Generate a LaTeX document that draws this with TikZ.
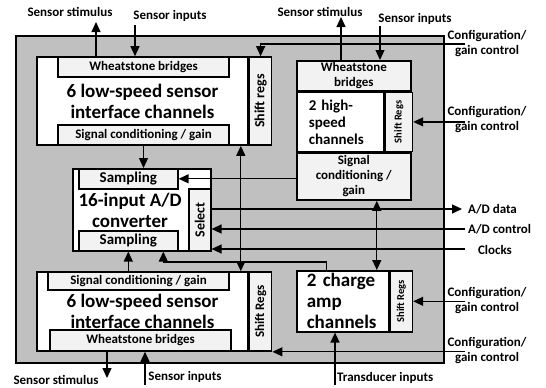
\documentclass[tikz,border=0pt]{standalone}
\usepackage{fontspec}
\setmainfont{Carlito}
\usetikzlibrary{positioning, arrows.meta}
\definecolor{chipgrey}{RGB}{192,192,192}
\definecolor{boxgrey}{RGB}{242,242,242}
\newcommand{\lblfont}{\fontsize{13}{15}\selectfont\bfseries}
\newcommand{\titlefnt}{\fontsize{19}{21}\selectfont\bfseries}
\newcommand{\midfnt}{\fontsize{15}{17}\selectfont\bfseries}
\newcommand{\smallfnt}{\fontsize{10.5}{12}\selectfont\bfseries}
\newcommand{\selfnt}{\fontsize{14}{16}\selectfont\bfseries}
\tikzset{
  blk/.style    = {draw, line width=1.6pt, fill=white, inner sep=0pt},
  subbox/.style = {draw, line width=1.6pt, fill=boxgrey, inner sep=0pt, align=center, font=\lblfont},
  regbox/.style = {subbox, font=\smallfnt},
  arrow/.style  = {-{Triangle[length=10pt,width=9pt]}, line width=1.3pt},
  darrow/.style = {{Triangle[length=10pt,width=9pt]}-{Triangle[length=10pt,width=9pt]}, line width=1.3pt},
  io/.style     = {font=\lblfont, align=center, inner sep=0pt}
}

\begin{document}
\begin{tikzpicture}[x=1pt, y=-1pt, font=\bfseries]
  \useasboundingbox (0,0) rectangle (546,388);
  \node[draw, line width=1.8pt, fill=chipgrey, minimum width=428, minimum height=327, anchor=north west] (chip) at (15,35) {};

  % top left channels
  \node[blk, minimum width=211, minimum height=88, align=center, font=\titlefnt] (tl) at (142.5,101) {6 low-speed sensor\\interface channels};
  \node[subbox, font=\selfnt, minimum width=22, minimum height=88, right=0pt of tl] (tlsr) {\rotatebox{90}{Shift regs}};
  \node[subbox, minimum width=171, minimum height=20, anchor=north west] (tlwb) at ([xshift=21pt]tl.north west) {Wheatstone bridges};
  \node[subbox, minimum width=171, minimum height=20, anchor=south west] (tlsc) at ([xshift=21pt]tl.south west) {Signal conditioning / gain};

  % high-speed channels
  \node[subbox, minimum width=114, minimum height=30, anchor=north west] (trwb) at (296,60) {Wheatstone\\bridges};
  \node[blk, minimum width=87, minimum height=59, text width=63, inner xsep=12pt, align=left, font=\midfnt, anchor=north west] (trmid) at (trwb.south west) {2 high-\\speed\\channels};
  \node[regbox, minimum width=27, minimum height=59, right=0pt of trmid] (trsr) {\rotatebox{90}{Shift Regs}};
  \node[subbox, minimum width=114, minimum height=47, anchor=north west] (trsc) at (trmid.south west) {Signal\\conditioning /\\gain};

  % A/D
  \node[blk, minimum width=138, minimum height=82, anchor=north west] (ad) at (72,168) {};
  \node[subbox, font=\midfnt, minimum width=99, minimum height=20, anchor=north west] (adsa) at ([xshift=6pt]ad.north west) {Sampling};
  \node[subbox, font=\midfnt, minimum width=99, minimum height=20, anchor=south west] (adsb) at ([xshift=6pt]ad.south west) {Sampling};
  \node[subbox, font=\selfnt, minimum width=22, minimum height=62, anchor=south east] (adsel) at (ad.south east) {\rotatebox{90}{Select}};
  \node[io, font=\titlefnt] (adtitle) at (130,210) {16-input A/D\\converter};

  % bottom left channels
  \node[blk, minimum width=211, minimum height=79, align=center, font=\titlefnt] (bl) at (142.5,311.5) {6 low-speed sensor\\interface channels};
  \node[subbox, minimum width=22, minimum height=79, right=0pt of bl] (blsr) {\rotatebox{90}{Shift Regs}};
  \node[subbox, minimum width=181, minimum height=18, anchor=north west] (blsc) at ([xshift=11pt]bl.north west) {Signal conditioning / gain};
  \node[subbox, minimum width=181, minimum height=21, anchor=south west] (blwb) at ([xshift=13pt]bl.south west) {Wheatstone bridges};

  % charge amps
  \node[blk, minimum width=92, minimum height=61, text width=72, inner xsep=10pt, align=left, font=\titlefnt, anchor=north west] (ca) at (296,270) {2 charge\\amp\\channels};
  \node[regbox, minimum width=22, minimum height=61, right=0pt of ca] (casr) {\rotatebox{90}{Shift Regs}};

  % free ends
  \coordinate (tlstim) at (96,22);
  \coordinate (tlin) at (135,25);
  \coordinate (trstim) at (341,17);
  \coordinate (trin) at (380,26);
  \coordinate (cf1) at (465,44);
  \coordinate (cf2) at (trsr.east -| cf1);
  \coordinate (cf3) at (casr.east -| cf1);
  \coordinate (cf4) at (blsr.south east -| cf1);
  \coordinate (addata) at (462,209);
  \coordinate (adctl) at (465,229);
  \coordinate (clk) at (465,249);
  \coordinate (trans) at (335,385);
  \coordinate (blstim) at (107,378);
  \coordinate (blin) at (145,385);

  % connectors
  \draw[arrow] (tlstim |- tl.north) -- (tlstim);
  \draw[arrow] (tlin) -- (tlin |- tl.north);
  \draw[arrow] (trstim |- trwb.north) -- (trstim);
  \draw[arrow] (trin) -- (trin |- trwb.north);
  \draw[arrow] (cf1) -| (tlsr.north);
  \draw[arrow] (cf2) -- (trsr.east);
  \draw[arrow] (cf3) -- (casr.east);
  \draw[arrow] (cf4) -- (blsr.south east);
  \draw[arrow] (tlsc.south) -- (tlsc.south |- ad.north);
  \draw[arrow] (adsa.east -| trsc.west) -- (adsa.east);
  \draw[arrow] (adsel.east |- addata) -- (addata);
  \draw[arrow] (adctl) -- (adsel.east |- adctl);
  \draw[arrow] (clk) -- (adsel.east |- clk);
  \draw[darrow] ([xshift=-8pt]tl.south east) -- ([xshift=-8pt]bl.north east);
  \draw[darrow] ([xshift=23pt]trsc.south) -- ([xshift=23pt]trsc.south |- ca.north);
  \draw[arrow] (adsb.south |- bl.north) -- (adsb.south);
  \draw[arrow] ([xshift=-16pt]ca.north) -- ++(0,-8) -| ([xshift=35pt]adsb.south);
  \draw[arrow] (trans) -- (trans |- ca.south);
  \draw[arrow] (blstim |- bl.south) -- (blstim);
  \draw[arrow] (blin) -- (blin |- bl.south);

  % labels
  \node[io] (tlstimlbl) at (70,12) {Sensor stimulus};
  \node[io] (tlinlbl) at (170,16) {Sensor inputs};
  \node[io] (trstimlbl) at (320,12) {Sensor stimulus};
  \node[io] (trinlbl) at (415,19) {Sensor inputs};
  \node[io] (cf1lbl) at (487,44) {Configuration/\\gain control};
  \node[io] (cf2lbl) at (487,119.5) {Configuration/\\gain control};
  \node[io] (cf3lbl) at (487,300.5) {Configuration/\\gain control};
  \node[io] (cf4lbl) at (487,350.5) {Configuration/\\gain control};
  \node[io, anchor=west] (addatalbl) at (468,209) {A/D data};
  \node[io, anchor=west] (adctllbl) at (468,229) {A/D control};
  \node[io] (clklbl) at (495,250) {Clocks};
  \node[io, anchor=west] (translbl) at (337,378) {Transducer inputs};
  \node[io] (blstimlbl) at (56,380) {Sensor stimulus};
  \node[io] (blinlbl) at (185,377) {Sensor inputs};
\end{tikzpicture}
\end{document}
